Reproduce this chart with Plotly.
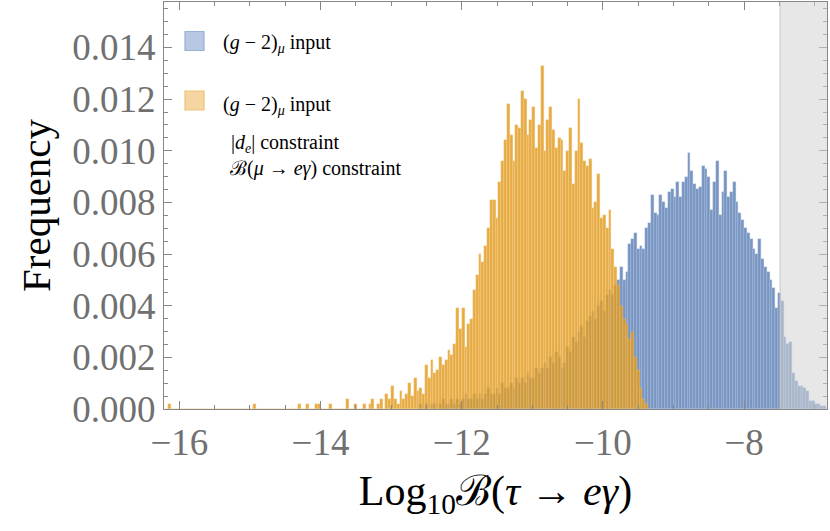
import plotly.graph_objects as go

# ---------------- data (frequency per bin, in units of 1e-4) ----------------
bin_width = 0.04

# orange: (g-2)_mu input + |d_e| + B(mu->e gamma) constraints ; first bin left edge
orange_first_edge = -16.20
orange_freq_e4 = [
    0, 2, 0, 0, 0, 0, 0, 0, 0, 0, 0, 0, 0, 0, 0, 0, 0, 0, 0, 0,
    0, 0, 0, 0, 0, 0, 0, 0, 0, 0, 0, 2, 0, 0, 0, 0, 0, 0, 0, 0,
    0, 0, 0, 0, 0, 0, 0, 2, 0, 0, 2, 0, 0, 2, 2, 0, 0, 0, 2, 0,
    0, 0, 0, 0, 4, 0, 0, 2, 0, 0, 2, 0, 2, 4, 0, 2, 4, 0, 6, 4,
    9, 4, 2, 7, 4, 6, 10, 5, 12, 7, 8, 6, 17, 12, 19, 14, 15, 20, 17, 19,
    23, 21, 25, 39, 31, 39, 24, 33, 35, 46, 52, 60, 57, 63, 70, 81, 81, 74, 88, 96,
    104, 118, 106, 96, 110, 109, 123, 120, 106, 112, 117, 101, 110, 133, 100, 112, 117, 108, 101, 105,
    104, 92, 100, 109, 87, 100, 120, 103, 96, 94, 97, 78, 80, 91, 74, 75, 70, 77, 62, 55,
    48, 40, 35, 33, 27, 30, 20, 15, 8, 4, 2,
]

# blue: (g-2)_mu input only ; first bin left edge
blue_first_edge = -12.64
blue_freq_e4 = [
    0, 2, 0, 2, 0, 2, 2, 0, 2, 4, 2, 2, 4, 2, 4, 2, 4, 6, 4, 4,
    6, 4, 6, 4, 6, 8, 6, 6, 8, 6, 10, 8, 8, 10, 8, 12, 10, 12, 10, 14,
    12, 12, 16, 14, 16, 18, 16, 20, 18, 22, 20, 16, 18, 24, 22, 28, 26, 30, 32, 28,
    34, 36, 38, 35, 40, 42, 38, 44, 46, 44, 48, 50, 55, 50, 53, 64, 66, 68, 62, 63,
    62, 70, 72, 83, 76, 75, 83, 80, 78, 84, 85, 82, 88, 82, 88, 90, 99, 92, 87, 85,
    86, 94, 93, 90, 77, 88, 96, 75, 84, 92, 82, 84, 88, 80, 76, 73, 70, 68, 66, 62,
    60, 66, 58, 55, 53, 50, 47, 39, 45, 42, 28, 25, 26, 14, 11, 9, 9, 8, 7, 3,
    3, 2, 2, 1, 1,
]

excluded_from = -7.49          # experimental bound on Log10 B(tau -> e gamma)

x_ticks = [-16, -14, -12, -10, -8]
y_ticks = [0.000, 0.002, 0.004, 0.006, 0.008, 0.010, 0.012, 0.014]

legend_label_1 = "(<i>g</i> − 2)<sub><i>μ</i></sub> input"
legend_label_2 = ["(<i>g</i> − 2)<sub><i>μ</i></sub> input",
                  "|<i>d</i><sub><i>e</i></sub>| constraint",
                  "ℬ(<i>μ</i> → <i>eγ</i>) constraint"]

# ---------------- figure ----------------
def centers(first_edge, n):
    return [first_edge + bin_width * (i + 0.5) for i in range(n)]

blue_x = centers(blue_first_edge, len(blue_freq_e4))
blue_y = [v * 1e-4 for v in blue_freq_e4]
orange_x = centers(orange_first_edge, len(orange_freq_e4))
orange_y = [v * 1e-4 for v in orange_freq_e4]

fig = go.Figure()
fig.add_trace(go.Bar(
    x=blue_x, y=blue_y, width=bin_width,
    marker=dict(color="rgb(94,129,181)", line=dict(color="rgb(160,182,220)", width=0.35)),
    opacity=0.84, showlegend=False, hoverinfo="skip"))
fig.add_trace(go.Bar(
    x=orange_x, y=orange_y, width=bin_width,
    marker=dict(color="rgb(226,156,32)", line=dict(color="rgb(245,205,135)", width=0.35)),
    opacity=0.84, showlegend=False, hoverinfo="skip"))

W, H = 830, 531
ml, mr, mt, mb = 164, 3, 2, 122
pw, ph = W - ml - mr, H - mt - mb

def px(X):
    return (X - ml) / pw

def py(Y):
    return (H - mb - Y) / ph

# excluded region
fig.add_shape(type="rect", xref="x", yref="paper", x0=excluded_from, x1=-6.0, y0=0, y1=1,
              fillcolor="rgba(212,212,212,0.55)", line=dict(width=0), layer="above")
fig.add_shape(type="line", xref="x", yref="paper", x0=excluded_from, x1=excluded_from, y0=0, y1=1,
              line=dict(color="rgba(200,200,200,0.7)", width=1.5), layer="above")

# legend swatches
sw = 19
for (Y, fill, edge) in [(41, "rgb(184,200,226)", "rgb(150,176,214)"),
                        (100.5, "rgb(245,214,162)", "rgb(238,193,115)")]:
    fig.add_shape(type="rect", xref="paper", yref="paper",
                  x0=px(185), x1=px(185 + sw), y0=py(Y + sw / 2), y1=py(Y - sw / 2),
                  fillcolor=fill, line=dict(color=edge, width=1.2), layer="above")

lf = dict(family="Liberation Serif, DejaVu Serif, serif", size=20, color="black")
fig.add_annotation(xref="paper", yref="paper", x=px(221), y=py(44), text=legend_label_1,
                   showarrow=False, xanchor="left", yanchor="middle", font=lf)
for (X, Y), t in zip([(221, 105), (229, 143), (228, 168)], legend_label_2):
    fig.add_annotation(xref="paper", yref="paper", x=px(X), y=py(Y), text=t,
                       showarrow=False, xanchor="left", yanchor="middle", font=lf)

axis_col = "rgb(135,135,135)"
tick_font = dict(family="Liberation Serif, DejaVu Serif, serif", size=37, color="rgb(112,112,112)")
fig.update_layout(
    width=W, height=H, margin=dict(l=ml, r=mr, t=mt, b=mb, autoexpand=False),
    paper_bgcolor="white", plot_bgcolor="white",
    barmode="overlay", bargap=0, showlegend=False,
    xaxis=dict(range=[-16.217, -6.826], tickvals=x_ticks, ticktext=["−16", "−14", "−12", "−10", "−8"],
               automargin=False,
               ticks="inside", ticklen=8, tickwidth=1, tickcolor=axis_col,
               minor=dict(dtick=0.5, tick0=-16, ticks="inside", ticklen=4, tickcolor=axis_col),
               showline=True, linecolor=axis_col, linewidth=1.3, mirror="allticks",
               showgrid=False, zeroline=False, tickfont=tick_font,
               title=dict(text="Log<sub>10</sub>ℬ(<i>τ</i> → <i>eγ</i>)",
                          font=dict(family="Liberation Serif, DejaVu Serif, serif", size=42, color="black"),
                          standoff=14)),
    yaxis=dict(range=[0, 0.01576], tickvals=y_ticks, ticktext=[f"{v:.3f}" for v in y_ticks],
               automargin=False,
               ticks="inside", ticklen=8, tickwidth=1, tickcolor=axis_col,
               minor=dict(dtick=0.0005, tick0=0, ticks="inside", ticklen=4, tickcolor=axis_col),
               showline=True, linecolor=axis_col, linewidth=1.3, mirror="allticks",
               showgrid=False, zeroline=False, tickfont=tick_font,
               title=dict(text="Frequency",
                          font=dict(family="Liberation Serif, DejaVu Serif, serif", size=41, color="black"),
                          standoff=8)),
)

fig.write_html("out.html", config={"displayModeBar": False},
               post_script="document.body.style.margin='0';document.body.style.overflow='hidden';")
